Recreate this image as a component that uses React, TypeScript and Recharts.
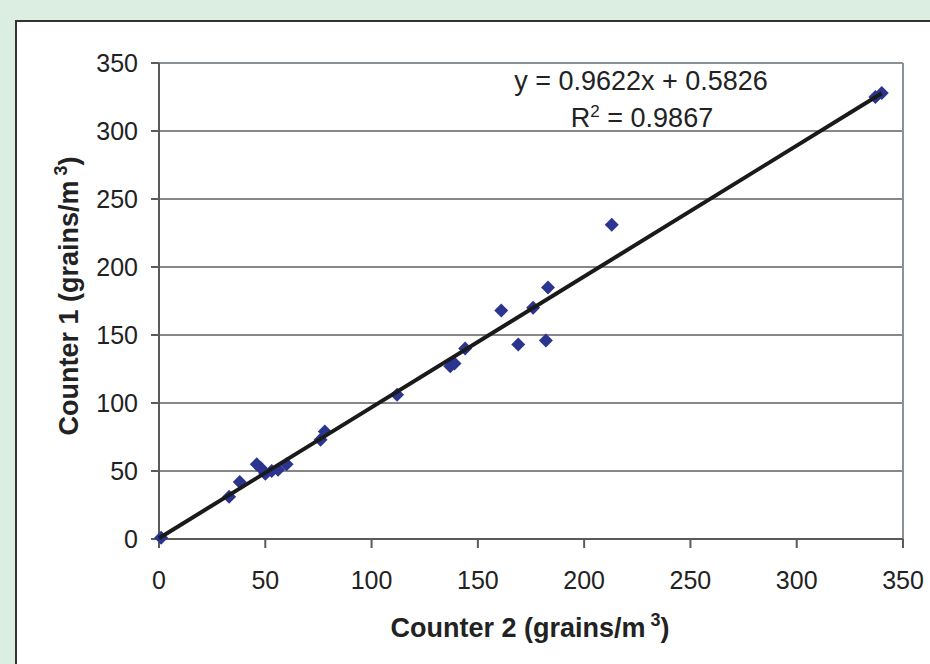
import React from 'react';
import {
  ScatterChart,
  Scatter,
  XAxis,
  YAxis,
  CartesianGrid,
  ReferenceLine,
} from 'recharts';

// Counter 2 (x) vs Counter 1 (y), grains/m3
const counter2 = [1, 33, 38, 46, 48, 50, 53, 56, 60, 76, 78, 112, 137, 139, 144, 161, 169, 176, 182, 183, 213, 337, 340];
const counter1 = [1, 31, 42, 55, 52, 48, 50, 51, 55, 73, 79, 106, 127, 129, 140, 168, 143, 170, 146, 185, 231, 325, 328];

const axisTicks = [0, 50, 100, 150, 200, 250, 300, 350];

// regression shown on the chart
const slope = 0.9622;
const intercept = 0.5826;
const rSquared = '0.9867';
const trendRange = [0, 340];

const points = counter2.map((x, i) => ({ x, y: counter1[i] }));
const trend = trendRange.map(x => ({ x, y: slope * x + intercept }));

const FONT = '"Liberation Sans", Arial, sans-serif';

const Diamond = (props: any) => {
  const { cx, cy } = props;
  const r = 7;
  return (
    <polygon
      points={`${cx},${cy - r} ${cx + r},${cy} ${cx},${cy + r} ${cx - r},${cy}`}
      fill="#2b3590"
    />
  );
};

export default function App() {
  return (
    <div
      style={{
        position: 'absolute',
        left: 0,
        top: 0,
        width: 930,
        height: 664,
        overflow: 'hidden',
        background: '#dcede1',
        fontFamily: FONT,
      }}
    >
      <div
        style={{
          position: 'absolute',
          left: 15,
          top: 20,
          width: 1000,
          height: 800,
          background: '#fff',
          border: '2px solid #333',
        }}
      />
      <div style={{ position: 'absolute', left: 0, top: 0 }}>
        <ScatterChart
          width={930}
          height={664}
          margin={{ top: 63, right: 27, left: 0, bottom: 0 }}
          style={{ fontFamily: FONT }}
        >
          <CartesianGrid vertical={false} stroke="#111" strokeWidth={1.2} />
          <XAxis
            type="number"
            dataKey="x"
            domain={[0, 350]}
            ticks={axisTicks}
            height={125}
            tickSize={9}
            tickMargin={23}
            stroke="#5a5a5a"
            strokeWidth={2}
            tick={{ fontSize: 25, fill: '#222' }}
          />
          <YAxis
            type="number"
            dataKey="y"
            domain={[0, 350]}
            ticks={axisTicks}
            width={159}
            tickSize={8}
            tickMargin={13}
            stroke="#5a5a5a"
            strokeWidth={2}
            tick={{ fontSize: 25, fill: '#222' }}
          />
          <ReferenceLine y={350} stroke="#8a9199" strokeWidth={2} />
          <ReferenceLine x={350} stroke="#8a9199" strokeWidth={2} />
          <Scatter data={points} shape={Diamond} isAnimationActive={false} />
          <Scatter
            data={trend}
            line={{ stroke: '#1a1a1a', strokeWidth: 4 }}
            shape={() => <g />}
            isAnimationActive={false}
          />
        </ScatterChart>
      </div>
      <svg
        width={930}
        height={664}
        style={{ position: 'absolute', left: 0, top: 0, pointerEvents: 'none' }}
        fontFamily={FONT}
      >
        <text x={641} y={90} fontSize={27} fill="#222" textAnchor="middle">
          y = {slope}x + {intercept}
        </text>
        <text x={642} y={127} fontSize={27} fill="#222" textAnchor="middle">
          R<tspan dy={-10} fontSize={17}>2</tspan>
          <tspan dy={10}> = {rSquared}</tspan>
        </text>
        <text x={530} y={637} fontSize={27} fontWeight="bold" fill="#222" textAnchor="middle">
          Counter 2 (grains/m
          <tspan dy={-11} fontSize={18}> 3</tspan>
          <tspan dy={11}>)</tspan>
        </text>
        <text
          x={0}
          y={0}
          transform="translate(78,296) rotate(-90)"
          fontSize={27}
          fontWeight="bold"
          fill="#222"
          textAnchor="middle"
        >
          Counter 1 (grains/m
          <tspan dy={-11} fontSize={18}> 3</tspan>
          <tspan dy={11}>)</tspan>
        </text>
      </svg>
    </div>
  );
}
